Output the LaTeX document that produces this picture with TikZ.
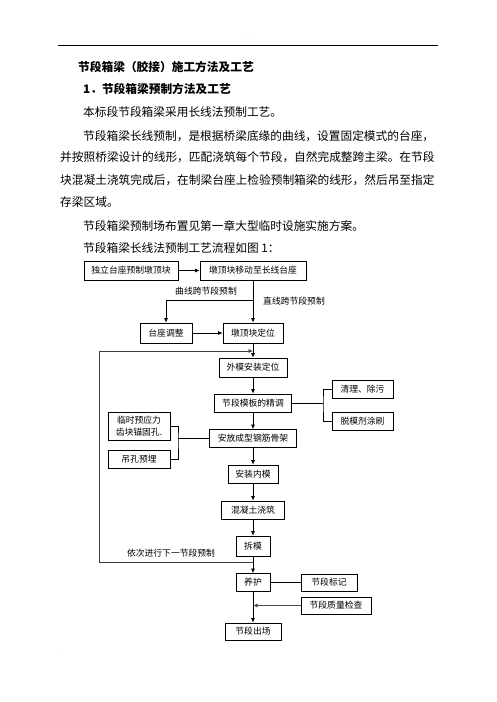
\documentclass[tikz,border=0pt]{standalone}
\usepackage{fontspec}
\setmainfont{Noto Sans CJK SC}
\usetikzlibrary{arrows.meta}
\begin{document}
\begin{tikzpicture}[x=1pt,y=-1pt,
  box/.style={draw, line width=0.8pt, inner sep=0pt, align=center, font=\fontsize{8.8}{11}\selectfont},
  lbl/.style={inner sep=0pt, font=\fontsize{8.8}{11}\selectfont},
  ln/.style={line width=0.7pt},
  arr/.style={ln, -{Latex[length=4.5pt,width=4pt]}},
  body/.style={anchor=west, inner sep=0pt, font=\fontsize{11.7}{14}\selectfont},
  head/.style={anchor=west, inner sep=0pt, font=\fontsize{11.7}{14}\selectfont\bfseries}]
\useasboundingbox (0,0) rectangle (496,702);
% page header
\draw[line width=0.9pt] (58,45) -- (438,45);
\node[inner sep=0pt, text=black!25, font=\fontsize{5}{6}\selectfont] (hd) at (248,41) {-};
\node[inner sep=0pt, text=black!25, font=\fontsize{5}{6}\selectfont] (ft) at (60,657) {-};
% text
\node[head] (t1) at (78,67) {节段箱梁（胶接）施工方法及工艺};
\node[head] (t2) at (83,89) {1．节段箱梁预制方法及工艺};
\node[body] (p1) at (83,112) {本标段节段箱梁采用长线法预制工艺。};
\node[body] (p2) at (83,136) {节段箱梁长线预制，是根据桥梁底缘的曲线，设置固定模式的台座，};
\node[body] (p3) at (60,157) {并按照桥梁设计的线形，匹配浇筑每个节段，自然完成整跨主梁。在节段};
\node[body] (p4) at (60,180) {块混凝土浇筑完成后，在制梁台座上检验预制箱梁的线形，然后吊至指定};
\node[body] (p5) at (60,202) {存梁区域。};
\node[body] (p6) at (83,226) {节段箱梁预制场布置见第一章大型临时设施实施方案。};
\node[body] (p7) at (83,248) {节段箱梁长线法预制工艺流程如图 1：};
% boxes
\node[box, minimum width=94pt, minimum height=19pt] (b1) at (131,270.5) {独立台座预制墩顶块};
\node[box, minimum width=106pt, minimum height=19pt] (b2) at (253,270.5) {墩顶块移动至长线台座};
\node[box, minimum width=52pt, minimum height=20pt] (b3) at (166,333) {台座调整};
\node[box, minimum width=60pt, minimum height=20pt] (b4) at (253,333) {墩顶块定位};
\node[box, minimum width=68pt, minimum height=19pt] (b5) at (253,367.5) {外模安装定位};
\node[box, minimum width=77pt, minimum height=18pt] (b6) at (253,403) {节段模板的精调};
\node[box, minimum width=61pt, minimum height=18pt] (b7) at (362.5,389) {清理、除污};
\node[box, minimum width=61pt, minimum height=18pt] (b8) at (362.5,421) {脱模剂涂刷};
\node[box, minimum width=87pt, minimum height=18pt] (b9) at (253,438.5) {安放成型钢筋骨架};
\node[box, minimum width=62pt, minimum height=28pt, font=\fontsize{8.8}{12.5}\selectfont] (b10) at (139,426) {临时预应力\\齿块锚固孔.};
\node[box, minimum width=62pt, minimum height=18pt] (b11) at (139,459) {吊孔预埋};
\node[box, minimum width=50pt, minimum height=18pt] (b12) at (253,474) {安装内模};
\node[box, minimum width=63pt, minimum height=18pt] (b13) at (253,510) {混凝土浇筑};
\node[box, minimum width=34pt, minimum height=20pt] (b14) at (253,546) {拆模};
\node[box, minimum width=34pt, minimum height=18pt] (b15) at (253,582.5) {养护};
\node[box, minimum width=56pt, minimum height=17pt] (b16) at (329,582.5) {节段标记};
\node[box, minimum width=70pt, minimum height=17pt] (b17) at (336,605.5) {节段质量检查};
\node[box, minimum width=56pt, minimum height=17pt] (b18) at (253,631.5) {节段出场};
% labels
\node[lbl] (l1) at (206,291) {曲线跨节段预制};
\node[lbl] (l2) at (294,301) {直线跨节段预制};
\node[lbl] (l3) at (171,553) {依次进行下一节段预制};
% connectors
\coordinate (br1) at (253,300);
\coordinate (lp1) at (253,562);
\coordinate (lp2) at (99,562);
\coordinate (lp3) at (99,351);
\coordinate (lp4) at (253,351);
\coordinate (r1) at (323,403);
\coordinate (lc) at (178,438.5);
\draw[arr] (b1) -- (b2);
\draw[arr] (b2) -- (b4);
\draw[arr] (br1) -| (b3.north);
\draw[arr] (b3) -- (b4);
\draw[arr] (b4) -- (b5);
\draw[arr, draw=black!75] (lp1) -- (lp2) -- (lp3) -- (lp4);
\draw[arr] (b5) -- (b6);
\draw[ln] (b6.east) -- (r1);
\draw[ln] (b7.west) -| (r1) |- (b8.west);
\draw[arr] (b6) -- (b9);
\draw[ln] (b10.east) -| (lc) |- (b11.east);
\draw[ln] (lc) -- (b9.west);
\draw[arr] (b9) -- (b12);
\draw[arr] (b12) -- (b13);
\draw[arr] (b13) -- (b14);
\draw[arr] (b14) -- (b15);
\draw[ln] (b15) -- (b16);
\draw[arr] (b15) -- (b18);
\draw[arr, draw=black!70] (b17.west) -- (b17.west -| b15.south);
\end{tikzpicture}
\end{document}
